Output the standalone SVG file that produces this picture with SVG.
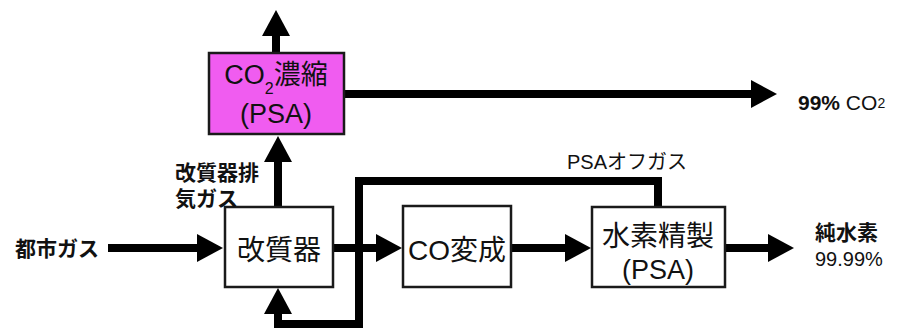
<svg xmlns="http://www.w3.org/2000/svg" width="899" height="329" viewBox="0 0 899 329">
<defs>
<style>
.box{fill:#ffffff;stroke:#1a1a1a;stroke-width:2.5}
.mag{fill:#f05cf0;stroke:#1a1a1a;stroke-width:2.5}
.pipe{fill:none;stroke:#000;stroke-width:8;stroke-linejoin:miter}
.t{font-family:"Liberation Sans","Noto Sans CJK JP",sans-serif;fill:#111}
.big{font-size:28px;text-anchor:middle}
.lab{font-weight:bold;font-size:21px}
</style>
<marker id="ah" viewBox="0 0 26 28" refX="1" refY="14" markerWidth="26" markerHeight="28" markerUnits="userSpaceOnUse" orient="auto">
<path d="M0,0 L26,14 L0,28 Z" fill="#000"/>
</marker>
</defs>
<rect width="899" height="329" fill="#ffffff"/>

<g id="connectors">
<path class="pipe" d="M276,53 L276,35" marker-end="url(#ah)"/>
<path class="pipe" d="M278,207 L278,161" marker-end="url(#ah)"/>
<path class="pipe" d="M344,94 L752,94" marker-end="url(#ah)"/>
<path class="pipe" d="M108,248 L198,248" marker-end="url(#ah)"/>
<path class="pipe" d="M333,248 L377,248" marker-end="url(#ah)"/>
<path class="pipe" d="M511,248 L566,248" marker-end="url(#ah)"/>
<path class="pipe" d="M725,248 L769,248" marker-end="url(#ah)"/>
<path class="pipe" d="M658,207 L658,181 L359,181 L359,324 L278,324 L278,313" marker-end="url(#ah)"/>
</g>

<g id="co2">
<rect class="mag" x="209" y="53" width="135" height="81"/>
<text class="t" x="276" y="84" font-size="27" text-anchor="middle" fill="#2a2070">CO<tspan font-size="16" dy="10">2</tspan><tspan dy="-10">濃縮</tspan></text>
<text class="t" x="276" y="123" font-size="27" text-anchor="middle" fill="#2a2070">(PSA)</text>
</g>

<g id="reformer">
<rect class="box" x="225" y="207" width="108" height="80"/>
<text class="t big" x="279" y="260">改質器</text>
</g>

<g id="shift">
<rect class="box" x="403" y="206" width="108" height="81"/>
<text class="t big" x="457" y="260">CO変成</text>
</g>

<g id="h2psa">
<rect class="box" x="592" y="207" width="133" height="80"/>
<text class="t big" x="658" y="246" font-size="29">水素精製</text>
<text class="t" x="658" y="279" font-size="27" text-anchor="middle">(PSA)</text>
</g>

<g id="labels">
<text class="t lab" x="15" y="256">都市ガス</text>
<text class="t lab" x="175" y="180">改質器排</text>
<text class="t lab" x="175" y="206">気ガス</text>
<text class="t" x="567" y="169" font-size="20">PSAオフガス</text>
<text class="t" x="798" y="110" font-size="21"><tspan font-weight="bold">99%</tspan> CO<tspan font-size="14" dy="-2">2</tspan></text>
<text class="t lab" x="815" y="240">純水素</text>
<text class="t" x="815" y="266" font-size="20">99.99%</text>
</g>
</svg>
